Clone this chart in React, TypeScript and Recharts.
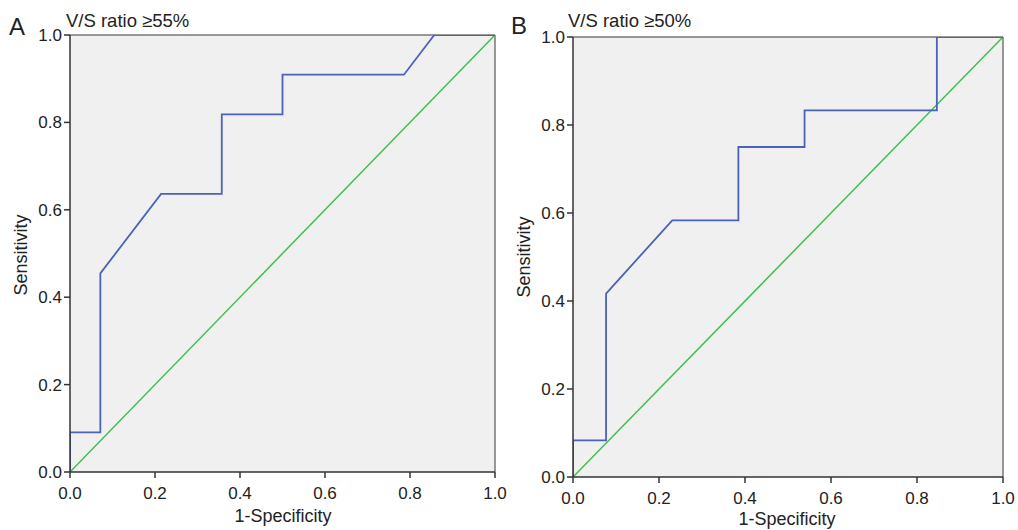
import React from 'react';
import { LineChart, Line, XAxis, YAxis, CartesianGrid, ReferenceLine } from 'recharts';

// shared axis ticks
const axisTicks = [0, 0.2, 0.4, 0.6, 0.8, 1.0];

// panel A: V/S ratio >=55%
const rocAFpr = [0, 0, 0.0714, 0.0714, 0.2143, 0.3571, 0.3571, 0.5, 0.5, 0.7857, 0.8571, 1];
const rocASens = [0, 0.0909, 0.0909, 0.4545, 0.6364, 0.6364, 0.8182, 0.8182, 0.9091, 0.9091, 1, 1];

// panel B: V/S ratio >=50%
const rocBFpr = [0, 0, 0.0769, 0.0769, 0.2308, 0.3846, 0.3846, 0.5385, 0.5385, 0.8462, 0.8462, 1];
const rocBSens = [0, 0.0833, 0.0833, 0.4167, 0.5833, 0.5833, 0.75, 0.75, 0.8333, 0.8333, 1, 1];

// reference diagonal
const refFpr = [0, 1];
const refSens = [0, 1];

const toPoints = (xs: number[], ys: number[]) => xs.map((x, i) => ({ x, y: ys[i] }));

const FONT = '"Liberation Sans", Arial, Helvetica, sans-serif';
const AXIS = '#333';

interface PanelProps {
    fpr: number[];
    sens: number[];
    width: number;
    height: number;
    margin: { top: number; right: number; bottom: number; left: number };
}

const RocPanel: React.FC<PanelProps> = ({ fpr, sens, width, height, margin }) => {
    const tickStyle = { fill: '#222', fontSize: 17, fontFamily: FONT };
    // frame lines go under the curves
    const frameProps: any = { stroke: '#777', strokeWidth: 1.5, zIndex: -50 };
    return (
        <LineChart width={width} height={height} margin={margin}>
            <CartesianGrid horizontal={false} vertical={false} fill="#f0f0f0" fillOpacity={1} />
            <XAxis
                type="number"
                dataKey="x"
                domain={[0, 1]}
                ticks={axisTicks}
                tickFormatter={(v: number) => v.toFixed(1)}
                tick={tickStyle}
                tickSize={6}
                tickMargin={9}
                height={30}
                axisLine={{ stroke: AXIS, strokeWidth: 1.5 }}
                tickLine={{ stroke: AXIS, strokeWidth: 1.5 }}
                allowDataOverflow
            />
            <YAxis
                type="number"
                dataKey="y"
                domain={[0, 1]}
                ticks={axisTicks}
                tickFormatter={(v: number) => v.toFixed(1)}
                tick={tickStyle}
                tickSize={6}
                tickMargin={2}
                width={50}
                axisLine={{ stroke: AXIS, strokeWidth: 1.5 }}
                tickLine={{ stroke: AXIS, strokeWidth: 1.5 }}
                allowDataOverflow
            />
            <ReferenceLine y={1} {...frameProps} />
            <ReferenceLine x={1} {...frameProps} />
            <Line
                data={toPoints(refFpr, refSens)}
                dataKey="y"
                type="linear"
                stroke="#3fbf52"
                strokeWidth={1.5}
                dot={false}
                activeDot={false}
                isAnimationActive={false}
            />
            <Line
                data={toPoints(fpr, sens)}
                dataKey="y"
                type="linear"
                stroke="#4a62b8"
                strokeWidth={1.8}
                dot={false}
                activeDot={false}
                isAnimationActive={false}
            />
        </LineChart>
    );
};

const App: React.FC = () => {
    return (
        <div style={{ position: 'absolute', left: 0, top: 0, width: 1018, height: 530, background: '#fff', overflow: 'hidden' }}>
            <div style={{ position: 'absolute', left: 0, top: 0 }}>
                <RocPanel fpr={rocAFpr} sens={rocASens} width={510} height={530} margin={{ top: 35, right: 15, bottom: 28, left: 20 }} />
            </div>
            <div style={{ position: 'absolute', left: 505, top: 0 }}>
                <RocPanel fpr={rocBFpr} sens={rocBSens} width={513} height={530} margin={{ top: 37, right: 15, bottom: 23, left: 18 }} />
            </div>
            <svg width={1018} height={530} style={{ position: 'absolute', left: 0, top: 0, pointerEvents: 'none' }}>
                <g fontFamily={FONT} fill="#222">
                    <text x={9} y={35} fontSize={24}>A</text>
                    <text x={66} y={27} fontSize={18.5}>V/S ratio ≥55%</text>
                    <text x={511} y={34} fontSize={24}>B</text>
                    <text x={568} y={27} fontSize={18.5}>V/S ratio ≥50%</text>
                    <text x={283} y={522} fontSize={18} textAnchor="middle">1-Specificity</text>
                    <text x={787} y={525} fontSize={18} textAnchor="middle">1-Specificity</text>
                    <text transform="translate(27,255) rotate(-90)" fontSize={18} textAnchor="middle">Sensitivity</text>
                    <text transform="translate(530,257) rotate(-90)" fontSize={18} textAnchor="middle">Sensitivity</text>
                </g>
            </svg>
        </div>
    );
};

export default App;
